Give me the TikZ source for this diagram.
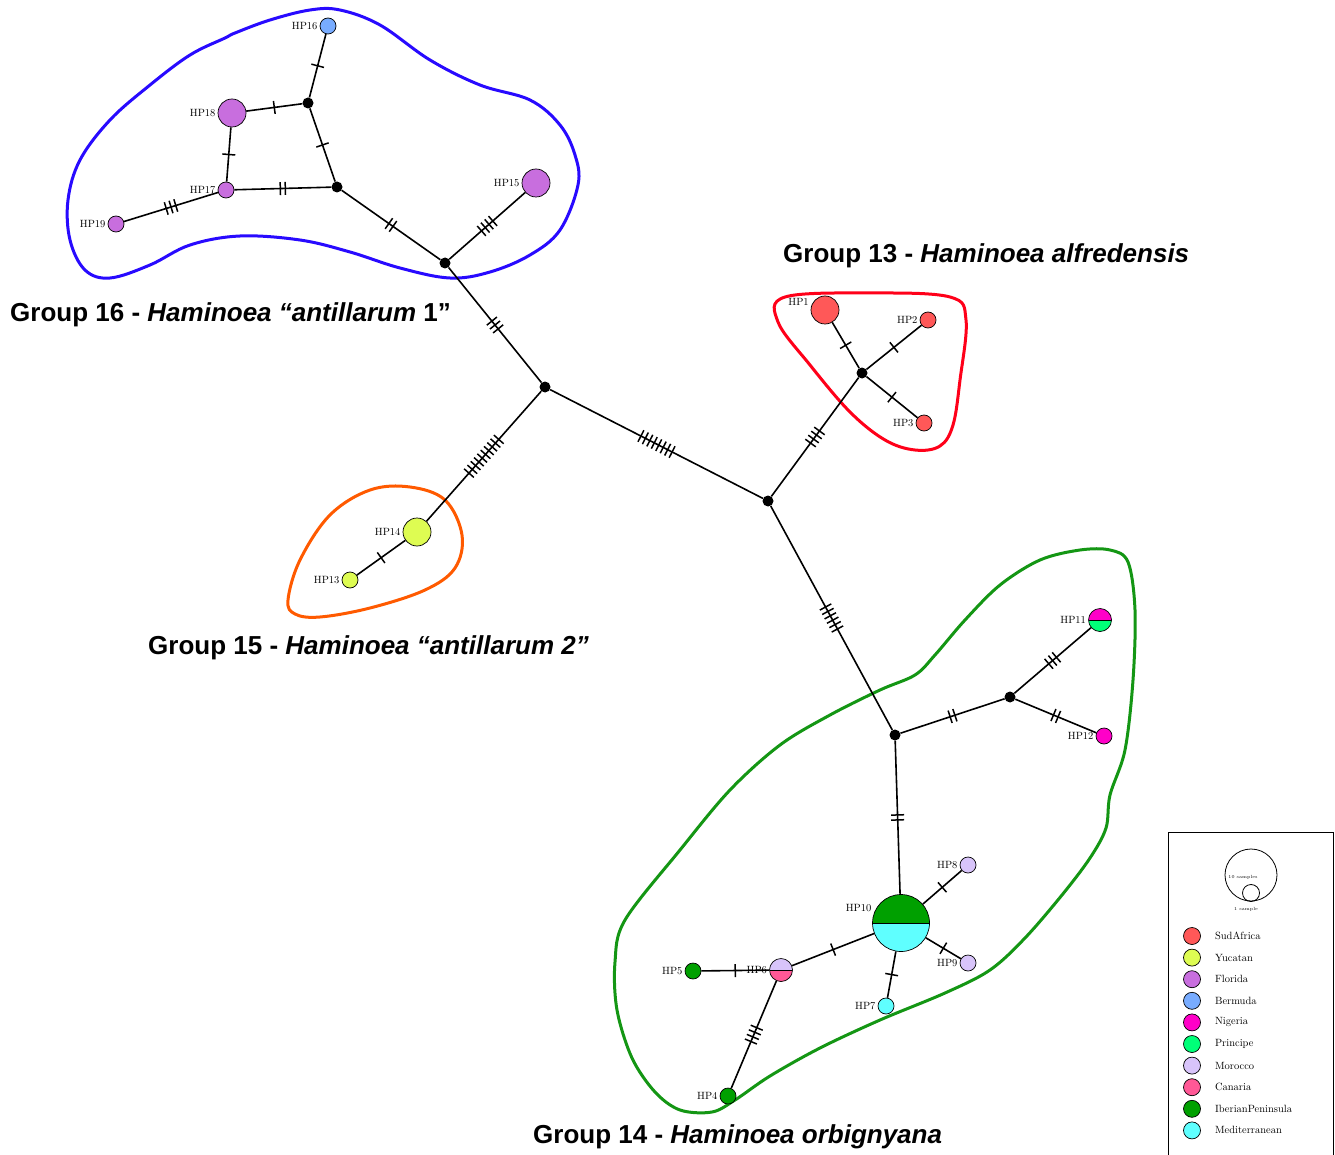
\documentclass[tikz,border=0pt]{standalone}
\usepackage{fontspec}
\newfontfamily\grpfont{Liberation Sans}
\usetikzlibrary{decorations.markings}
\definecolor{sudafrica}{RGB}{255,88,88}
\definecolor{yucatan}{RGB}{222,252,82}
\definecolor{florida}{RGB}{200,110,222}
\definecolor{bermuda}{RGB}{120,172,255}
\definecolor{nigeria}{RGB}{255,0,200}
\definecolor{principe}{RGB}{0,255,120}
\definecolor{morocco}{RGB}{216,196,250}
\definecolor{canaria}{RGB}{255,88,150}
\definecolor{iberian}{RGB}{0,160,0}
\definecolor{mediterr}{RGB}{95,255,255}
\definecolor{hullblue}{RGB}{40,10,255}
\definecolor{hullred}{RGB}{255,0,25}
\definecolor{hullorange}{RGB}{255,90,0}
\definecolor{hullgreen}{RGB}{20,150,20}

\begin{document}
\begin{tikzpicture}[x=1pt, y=-1pt,
  hap/.style = {draw, circle, fill=#1, line width=0.7pt, inner sep=0pt, minimum size=16pt},
  mid/.style = {hap=#1, minimum size=23pt},
  big/.style = {hap=#1, minimum size=28pt},
  half/.style 2 args = {draw, circle, line width=0.7pt, inner sep=0pt, minimum size=23pt,
    path picture={\fill[#1] (path picture bounding box.north west) rectangle (path picture bounding box.east);
      \fill[#2] (path picture bounding box.west) rectangle (path picture bounding box.south east);
      \draw[line width=0.7pt] (path picture bounding box.west) -- (path picture bounding box.east);}},
  jn/.style = {circle, fill=black, inner sep=0pt, minimum size=11pt},
  lbl/.style = {font=\fontsize{10.5}{12}\selectfont, inner sep=2pt},
  mut/.style = {line width=1.6pt, postaction={decorate, decoration={markings, mark=at position 0.5 with
    {\foreach \k in {1,...,#1} {\draw[line width=1.5pt] ({(\k-(#1+1)/2)*5},-6.5) -- ++(0,13);}}}}},
  grp/.style = {font=\grpfont\bfseries\fontsize{26}{30}\selectfont, anchor=west, inner sep=0pt},
  hull/.style = {line width=3pt}]
\useasboundingbox (0,0) rectangle (1335,1155);

\draw[hull, hullblue] plot[smooth cycle, tension=0.6] coordinates {(235,33) (270,20) (310,10) (340,10) (380,25) (430,60) (480,85) (530,100) (560,125) (575,155) (578,185) (560,230) (530,255) (490,272) (450,278) (400,268) (350,252) (300,240) (240,236) (190,245) (150,265) (110,278) (85,270) (70,240) (68,200) (80,160) (110,120) (150,85) (190,55) (225,38)};
\draw[hull, hullred] plot[smooth cycle, tension=0.6] coordinates {(785,297) (870,293) (950,297) (966,320) (960,380) (953,425) (940,446) (915,450) (885,440) (850,412) (810,365) (778,322)};
\draw[hull, hullorange] plot[smooth cycle, tension=0.6] coordinates {(288,600) (300,560) (330,515) (370,490) (410,487) (445,500) (462,535) (455,568) (425,590) (370,608) (320,617) (295,614)};
\draw[hull, hullgreen] plot[smooth cycle, tension=0.55] coordinates {(625,920) (680,850) (730,790) (780,745) (830,715) (880,690) (915,675) (935,655) (965,620) (1000,585) (1040,560) (1080,550) (1110,550) (1128,562) (1135,610) (1133,680) (1125,750) (1110,795) (1106,828) (1090,858) (1062,895) (1025,938) (990,970) (945,993) (880,1020) (820,1048) (770,1076) (735,1100) (712,1112) (680,1110) (655,1092) (632,1058) (617,1010) (615,962)};

\node[jn] (j1) at (308,103) {};
\node[jn] (j2) at (337,187) {};
\node[jn] (j3) at (445,263) {};
\node[jn] (j4) at (545,387) {};
\node[jn] (j5) at (768,501) {};
\node[jn] (j6) at (862,373) {};
\node[jn] (j7) at (895,735) {};
\node[jn] (j8) at (1010,697) {};

\node[hap=bermuda, label={[lbl]left:HP16}] (hp16) at (328,26) {};
\node[big=florida, label={[lbl]left:HP18}] (hp18) at (232,113) {};
\node[hap=florida, label={[lbl]left:HP17}] (hp17) at (226,190) {};
\node[hap=florida, label={[lbl]left:HP19}] (hp19) at (116,224) {};
\node[big=florida, label={[lbl]left:HP15}] (hp15) at (536,183) {};
\node[big=sudafrica, label={[lbl]170:HP1}] (hp1) at (825,310) {};
\node[hap=sudafrica, label={[lbl]left:HP2}] (hp2) at (928,320) {};
\node[hap=sudafrica, label={[lbl]left:HP3}] (hp3) at (924,423) {};
\node[big=yucatan, label={[lbl]left:HP14}] (hp14) at (417,532) {};
\node[hap=yucatan, label={[lbl]left:HP13}] (hp13) at (350,580) {};
\node[half={nigeria}{principe}, label={[lbl]left:HP11}] (hp11) at (1100,620) {};
\node[hap=nigeria, label={[lbl]left:HP12}] (hp12) at (1104,736) {};
\node[half={iberian}{mediterr}, minimum size=57pt, label={[lbl]162:HP10}] (hp10) at (901,923) {};
\node[hap=morocco, label={[lbl]left:HP8}] (hp8) at (968,865) {};
\node[hap=morocco, label={[lbl]left:HP9}] (hp9) at (968,963) {};
\node[hap=mediterr, label={[lbl]left:HP7}] (hp7) at (886,1006) {};
\node[half={morocco}{canaria}, label={[lbl]left:HP6}] (hp6) at (781,970) {};
\node[hap=iberian, label={[lbl]left:HP5}] (hp5) at (693,971) {};
\node[hap=iberian, label={[lbl]left:HP4}] (hp4) at (728,1096) {};

\draw[mut=1] (j1) -- (hp16);
\draw[mut=1] (j1) -- (hp18);
\draw[mut=1] (j1) -- (j2);
\draw[mut=1] (hp18) -- (hp17);
\draw[mut=2] (hp17) -- (j2);
\draw[mut=3] (hp17) -- (hp19);
\draw[mut=2] (j2) -- (j3);
\draw[mut=4] (j3) -- (hp15);
\draw[mut=3] (j3) -- (j4);
\draw[mut=10] (j4) -- (hp14);
\draw[mut=1] (hp14) -- (hp13);
\draw[mut=8] (j4) -- (j5);
\draw[mut=4] (j5) -- (j6);
\draw[mut=1] (j6) -- (hp1);
\draw[mut=1] (j6) -- (hp2);
\draw[mut=1] (j6) -- (hp3);
\draw[mut=6] (j5) -- (j7);
\draw[mut=2] (j7) -- (j8);
\draw[mut=3] (j8) -- (hp11);
\draw[mut=2] (j8) -- (hp12);
\draw[mut=2] (j7) -- (hp10);
\draw[mut=1] (hp10) -- (hp8);
\draw[mut=1] (hp10) -- (hp9);
\draw[mut=1] (hp10) -- (hp7);
\draw[mut=1] (hp10) -- (hp6);
\draw[mut=1] (hp6) -- (hp5);
\draw[mut=4] (hp6) -- (hp4);

\node[grp] (g16) at (10,315) {Group 16 - {\itshape Haminoea “antillarum} 1”};
\node[grp] (g13) at (783,256) {Group 13 - {\itshape Haminoea alfredensis}};
\node[grp] (g15) at (148,648) {Group 15 - {\itshape Haminoea “antillarum 2”}};
\node[grp] (g14) at (533,1137) {Group 14 - {\itshape Haminoea orbignyana}};

\draw[line width=0.8pt] (1168,1160) -- (1168,832) -- (1333,832) -- (1333,1160);
\node[draw, circle, inner sep=0pt, minimum size=52pt, line width=0.8pt] (ten) at (1251,875) {};
\node[draw, circle, inner sep=0pt, minimum size=17pt, line width=0.8pt] (one) at (1251,893) {};
\node[font=\fontsize{4.5}{5}\selectfont] at (1243,877) {10 samples};
\node[font=\fontsize{4.5}{5}\selectfont] at (1246,909) {1 sample};
\foreach \c/\t [count=\i] in {sudafrica/SudAfrica, yucatan/Yucatan, florida/Florida, bermuda/Bermuda, nigeria/Nigeria, principe/Principe, morocco/Morocco, canaria/Canaria, iberian/IberianPeninsula, mediterr/Mediterranean}
  \node[hap=\c, minimum size=17pt, label={[lbl, anchor=west, xshift=12pt]right:\t}] (key\i) at (1192,{936+21.6*(\i-1)}) {};
\end{tikzpicture}
\end{document}
